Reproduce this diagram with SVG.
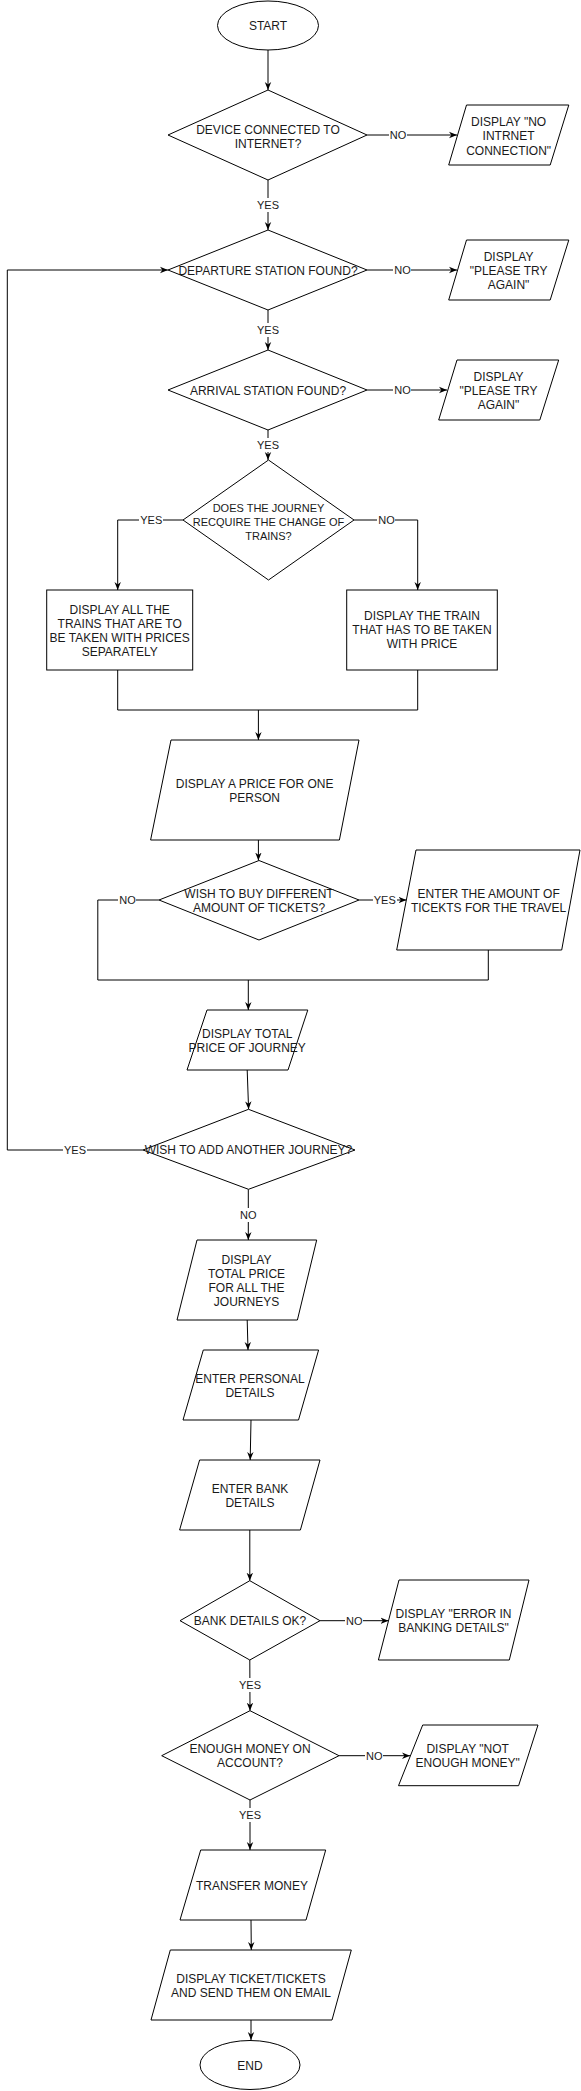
<svg xmlns="http://www.w3.org/2000/svg" width="581" height="2091" viewBox="0 0 581 2091">
<defs>
<style>
.s{fill:#fff;stroke:#000;stroke-width:1}
.t{font-family:"Liberation Sans",Arial,sans-serif;font-size:12px;fill:#1a1a1a;text-anchor:middle}
.t11{font-size:11px}
.c{fill:none;stroke:#000;stroke-width:1}
.lb{fill:#fff;stroke:none}
.l{font-family:"Liberation Sans",Arial,sans-serif;font-size:11px;fill:#1a1a1a;text-anchor:middle}
</style>
<marker id="arr" viewBox="0 0 10 10" refX="10" refY="5" markerWidth="8" markerHeight="8" markerUnits="userSpaceOnUse" orient="auto">
<path d="M0,1 L10,5 L0,9 L3,5 z" fill="#000"/>
</marker>
</defs>
<rect width="581" height="2091" fill="#fff"/>

<g id="connectors">
<path class="c" marker-end="url(#arr)" d="M268,50 L268,90"/>
<path class="c" marker-end="url(#arr)" d="M367,135 L457,135"/>
<path class="c" marker-end="url(#arr)" d="M268,180 L268,230"/>
<path class="c" marker-end="url(#arr)" d="M367,270 L457,270"/>
<path class="c" marker-end="url(#arr)" d="M268,310 L268,350"/>
<path class="c" marker-end="url(#arr)" d="M367,390 L447,390"/>
<path class="c" marker-end="url(#arr)" d="M268,430 L268,460"/>
<path class="c" marker-end="url(#arr)" d="M183,520 L117.7,520 L117.7,590"/>
<path class="c" marker-end="url(#arr)" d="M354,520 L417.7,520 L417.7,590"/>
<path class="c" d="M117.7,670 L117.7,710 L417.7,710 L417.7,670"/>
<path class="c" marker-end="url(#arr)" d="M258.4,710 L258.4,740"/>
<path class="c" marker-end="url(#arr)" d="M258.4,840 L258.4,860.5"/>
<path class="c" d="M159,900 L97.8,900 L97.8,980 L488.3,980 L488.3,950"/>
<path class="c" marker-end="url(#arr)" d="M359,900 L406.5,900"/>
<path class="c" marker-end="url(#arr)" d="M248.3,980 L248.3,1010"/>
<path class="c" marker-end="url(#arr)" d="M247.2,1070 L248.6,1109.3"/>
<path class="c" marker-end="url(#arr)" d="M143,1150 L7.3,1150 L7.3,270 L168,270"/>
<path class="c" marker-end="url(#arr)" d="M248.3,1189.3 L248.3,1240"/>
<path class="c" marker-end="url(#arr)" d="M247.2,1320 L248,1350"/>
<path class="c" marker-end="url(#arr)" d="M251,1420 L250.2,1460"/>
<path class="c" marker-end="url(#arr)" d="M249.8,1530 L249.8,1580.7"/>
<path class="c" marker-end="url(#arr)" d="M320,1620.7 L388.5,1620.7"/>
<path class="c" marker-end="url(#arr)" d="M249.8,1660 L250,1710.7"/>
<path class="c" marker-end="url(#arr)" d="M339,1755.7 L410,1755.7"/>
<path class="c" marker-end="url(#arr)" d="M250,1800 L250,1850"/>
<path class="c" marker-end="url(#arr)" d="M251,1920 L251.3,1950"/>
<path class="c" marker-end="url(#arr)" d="M251,2020 L251,2040"/>

<rect class="lb" x="389" y="128" width="18" height="14"/>
<text class="l" x="398" y="139">NO</text>
<rect class="lb" x="256" y="198" width="24" height="14"/>
<text class="l" x="268" y="209">YES</text>
<rect class="lb" x="393" y="263" width="18" height="14"/>
<text class="l" x="402.6" y="274">NO</text>
<rect class="lb" x="256" y="323" width="24" height="14"/>
<text class="l" x="268" y="334">YES</text>
<rect class="lb" x="393" y="383" width="18" height="14"/>
<text class="l" x="402.6" y="394">NO</text>
<rect class="lb" x="256" y="438" width="24" height="14"/>
<text class="l" x="268" y="449">YES</text>
<rect class="lb" x="139" y="513" width="24" height="14"/>
<text class="l" x="151.3" y="524">YES</text>
<rect class="lb" x="377" y="513" width="18" height="14"/>
<text class="l" x="386.6" y="524">NO</text>
<rect class="lb" x="118" y="893" width="18" height="14"/>
<text class="l" x="127.5" y="904">NO</text>
<rect class="lb" x="373" y="893" width="24" height="14"/>
<text class="l" x="384.8" y="904">YES</text>
<rect class="lb" x="63" y="1143" width="24" height="14"/>
<text class="l" x="75" y="1154">YES</text>
<rect class="lb" x="239" y="1208" width="18" height="14"/>
<text class="l" x="248.3" y="1219">NO</text>
<rect class="lb" x="345" y="1614" width="18" height="14"/>
<text class="l" x="354.3" y="1625">NO</text>
<rect class="lb" x="238" y="1678" width="24" height="14"/>
<text class="l" x="250" y="1689">YES</text>
<rect class="lb" x="365" y="1749" width="18" height="14"/>
<text class="l" x="374.3" y="1760">NO</text>
<rect class="lb" x="238" y="1808" width="24" height="14"/>
<text class="l" x="250" y="1819">YES</text>
</g>

<g id="start">
<ellipse class="s" cx="268" cy="25.5" rx="50.5" ry="24.5"/>
<text class="t" x="268" y="30">START</text>
</g>
<g id="d-internet">
<polygon class="s" points="268,90 367,135 268,180 168,135"/>
<text class="t" x="268" y="133.5">DEVICE CONNECTED TO</text>
<text class="t" x="268" y="147.5">INTERNET?</text>
</g>
<g id="p-no-internet">
<polygon class="s" points="466.5,105 568.8,105 550.2,165 448.7,165"/>
<text class="t" x="508.6" y="126">DISPLAY "NO</text>
<text class="t" x="508.6" y="140">INTRNET</text>
<text class="t" x="508.6" y="154.5">CONNECTION"</text>
</g>
<g id="d-departure">
<polygon class="s" points="268,230 367,270 268,310 168,270"/>
<text class="t" x="268" y="275">DEPARTURE STATION FOUND?</text>
</g>
<g id="p-try-again-1">
<polygon class="s" points="466.5,240 568.8,240 550.2,300 448.7,300"/>
<text class="t" x="508.6" y="261">DISPLAY</text>
<text class="t" x="508.6" y="275">"PLEASE TRY</text>
<text class="t" x="508.6" y="289">AGAIN"</text>
</g>
<g id="d-arrival">
<polygon class="s" points="268,350 367,390 268,430 168,390"/>
<text class="t" x="268" y="395">ARRIVAL STATION FOUND?</text>
</g>
<g id="p-try-again-2">
<polygon class="s" points="457,360 558.7,360 539.8,420 438.7,420"/>
<text class="t" x="498.5" y="381">DISPLAY</text>
<text class="t" x="498.5" y="395">"PLEASE TRY</text>
<text class="t" x="498.5" y="409">AGAIN"</text>
</g>
<g id="d-change">
<polygon class="s" points="268.5,460 354,520 268.5,580 183,520"/>
<text class="t t11" x="268.5" y="511.5">DOES THE JOURNEY</text>
<text class="t t11" x="268.5" y="525.5">RECQUIRE THE CHANGE OF</text>
<text class="t t11" x="268.5" y="539.5">TRAINS?</text>
</g>
<g id="b-all-trains">
<rect class="s" x="46.7" y="590" width="146" height="80"/>
<text class="t" x="119.7" y="613.5">DISPLAY ALL THE</text>
<text class="t" x="119.7" y="627.5">TRAINS THAT ARE TO</text>
<text class="t" x="119.7" y="641.5">BE TAKEN WITH PRICES</text>
<text class="t" x="119.7" y="655.5">SEPARATELY</text>
</g>
<g id="b-one-train">
<rect class="s" x="346.7" y="590" width="150.6" height="80"/>
<text class="t" x="422" y="620.3">DISPLAY THE TRAIN</text>
<text class="t" x="422" y="634.3">THAT HAS TO BE TAKEN</text>
<text class="t" x="422" y="648.3">WITH PRICE</text>
</g>
<g id="p-price-one">
<polygon class="s" points="171,740 359,740 339.4,840 150.6,840"/>
<text class="t" x="254.6" y="787.5">DISPLAY A PRICE FOR ONE</text>
<text class="t" x="254.6" y="802">PERSON</text>
</g>
<g id="d-amount">
<polygon class="s" points="259,860.5 359,900 259,940 159,900"/>
<text class="t" x="259" y="897.5">WISH TO BUY DIFFERENT</text>
<text class="t" x="259" y="912">AMOUNT OF TICKETS?</text>
</g>
<g id="p-enter-amount">
<polygon class="s" points="416,850 580,850 561.7,950 396.7,950"/>
<text class="t" x="488.6" y="897.5">ENTER THE AMOUNT OF</text>
<text class="t" x="488.6" y="912">TICEKTS FOR THE TRAVEL</text>
</g>
<g id="p-total-journey">
<polygon class="s" points="207,1010 307.8,1010 288,1070 187,1070"/>
<text class="t" x="247.2" y="1038.3">DISPLAY TOTAL</text>
<text class="t" x="247.2" y="1052">PRICE OF JOURNEY</text>
</g>
<g id="d-another">
<polygon class="s" points="248.5,1109.3 355,1150 248.5,1189.3 143,1150"/>
<text class="t" x="248.5" y="1154.3">WISH TO ADD ANOTHER JOURNEY?</text>
</g>
<g id="p-total-all">
<polygon class="s" points="197,1240 316.7,1240 297.4,1320 177,1320"/>
<text class="t" x="246.5" y="1263.5">DISPLAY</text>
<text class="t" x="246.5" y="1277.5">TOTAL PRICE</text>
<text class="t" x="246.5" y="1291.5">FOR ALL THE</text>
<text class="t" x="246.5" y="1305.5">JOURNEYS</text>
</g>
<g id="p-personal">
<polygon class="s" points="203.3,1350 318.6,1350 298.5,1420 183,1420"/>
<text class="t" x="250" y="1383">ENTER PERSONAL</text>
<text class="t" x="250" y="1397">DETAILS</text>
</g>
<g id="p-bank">
<polygon class="s" points="199.6,1460 320,1460 300.4,1530 179.6,1530"/>
<text class="t" x="250" y="1493.3">ENTER BANK</text>
<text class="t" x="250" y="1507">DETAILS</text>
</g>
<g id="d-bank-ok">
<polygon class="s" points="249.8,1580.7 320,1620.7 249.8,1660 180,1620.7"/>
<text class="t" x="250" y="1625">BANK DETAILS OK?</text>
</g>
<g id="p-bank-error">
<polygon class="s" points="399,1580 529,1580 509.3,1660 378.4,1660"/>
<text class="t" x="453.5" y="1617.5">DISPLAY "ERROR IN</text>
<text class="t" x="453.5" y="1632">BANKING DETAILS"</text>
</g>
<g id="d-money">
<polygon class="s" points="250,1710.7 339,1755.7 250,1800 161.7,1755.7"/>
<text class="t" x="250" y="1753.3">ENOUGH MONEY ON</text>
<text class="t" x="250" y="1767">ACCOUNT?</text>
</g>
<g id="p-no-money">
<polygon class="s" points="422.7,1725 538,1725 518.6,1785.7 398.5,1785.7"/>
<text class="t" x="467.7" y="1753.3">DISPLAY "NOT</text>
<text class="t" x="467.7" y="1767">ENOUGH MONEY"</text>
</g>
<g id="p-transfer">
<polygon class="s" points="200.7,1850 325.7,1850 306,1920 180,1920"/>
<text class="t" x="252" y="1890">TRANSFER MONEY</text>
</g>
<g id="p-tickets">
<polygon class="s" points="170.3,1950 351.3,1950 332,2020 151,2020"/>
<text class="t" x="251" y="1982.5">DISPLAY TICKET/TICKETS</text>
<text class="t" x="251" y="1997">AND SEND THEM ON EMAIL</text>
</g>
<g id="end">
<ellipse class="s" cx="250" cy="2065" rx="50" ry="24.5"/>
<text class="t" x="250" y="2069.5">END</text>
</g>
</svg>
